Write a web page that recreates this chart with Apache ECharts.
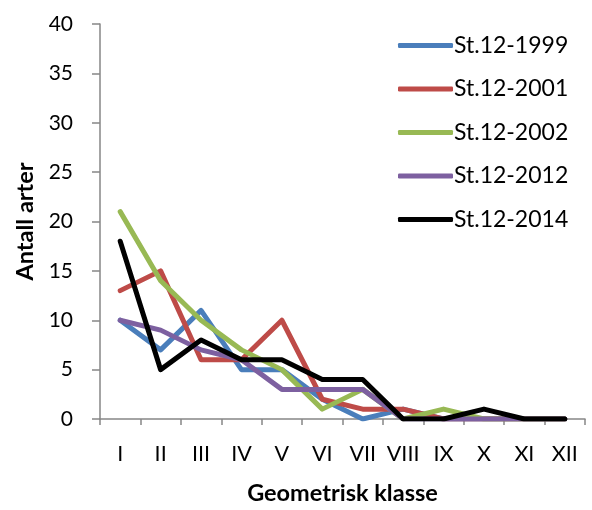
<!DOCTYPE html>
<html>
<head>
<meta charset="utf-8">
<script src="https://cdn.jsdelivr.net/npm/echarts@6/dist/echarts.min.js"></script>
<style>html,body{margin:0;padding:0;background:#fff}#c{width:592px;height:510px}</style>
</head>
<body>
<div id="c"></div>
<script>
const categories = ['I','II','III','IV','V','VI','VII','VIII','IX','X','XI','XII'];
const seriesNames = ['St.12-1999','St.12-2001','St.12-2002','St.12-2012','St.12-2014'];
const st1999 = [10,7,11,5,5,2,0,1,0,0,0,0];
const st2001 = [13,15,6,6,10,2,1,1,0,0,0,0];
const st2002 = [21,14,10,7,5,1,3,0,1,0,0,0];
const st2012 = [10,9,7,6,3,3,3,0,0,0,0,0];
const st2014 = [18,5,8,6,6,4,4,0,0,1,0,0];
const yTicks = [0,5,10,15,20,25,30,35,40];
const colors = ['#4A7EBB','#BE4B48','#98B954','#7D60A0','#000000'];

const FONT = 'Lato, "Open Sans", "Liberation Sans", sans-serif';
const allData = [st1999, st2001, st2002, st2012, st2014];
const chart = echarts.init(document.getElementById('c'), null, {renderer:'canvas'});
chart.setOption({
  animation:false,
  backgroundColor:'#fff',
  color: colors,
  grid:{left:100, right:7, top:24, bottom:90, containLabel:false},
  legend:{
    orient:'vertical', left:393, top:29,
    itemWidth:55, itemHeight:5, itemGap:20.5,
    icon:'roundRect',
    textStyle:{fontFamily:FONT, fontSize:23, color:'#000', padding:[0,0,0,-4]},
    data: seriesNames
  },
  xAxis:{
    type:'category', data:categories, boundaryGap:true,
    name:'Geometrisk klasse', nameLocation:'middle', nameGap:62,
    nameTextStyle:{fontFamily:FONT, fontSize:23.5, fontWeight:'bold', color:'#000'},
    axisLine:{lineStyle:{color:'#868686', width:1.5}},
    axisTick:{show:true, length:6, alignWithLabel:false, lineStyle:{color:'#868686', width:1.5}},
    axisLabel:{fontFamily:FONT, fontSize:21.5, color:'#000', margin:24, interval:0},
    splitLine:{show:false}
  },
  yAxis:{
    type:'value', min:yTicks[0], max:yTicks[yTicks.length-1], interval:5,
    name:'Antall arter', nameLocation:'middle', nameGap:58, nameRotate:90,
    nameTextStyle:{fontFamily:FONT, fontSize:23.5, fontWeight:'bold', color:'#000'},
    axisLine:{show:true, lineStyle:{color:'#868686', width:1.5}},
    axisTick:{show:true, length:8, lineStyle:{color:'#868686', width:1.5}},
    axisLabel:{fontFamily:FONT, fontSize:21, color:'#000', margin:27},
    splitLine:{show:false}
  },
  series: seriesNames.map((n,i)=>({
    name:n, type:'line', data:allData[i], symbol:'none', showSymbol:false,
    lineStyle:{width:5, color:colors[i], cap:'round', join:'round'},
    itemStyle:{color:colors[i]}
  }))
});
</script>
</body>
</html>
